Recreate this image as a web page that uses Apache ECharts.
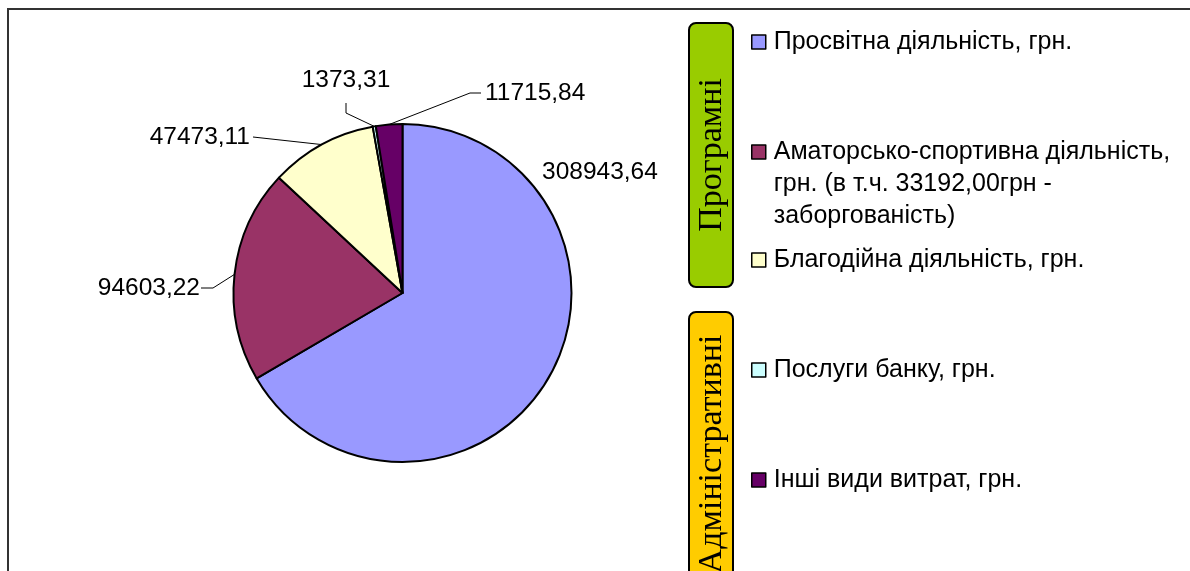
<!DOCTYPE html>
<html>
<head>
<meta charset="utf-8">
<script src="https://cdn.jsdelivr.net/npm/echarts@6/dist/echarts.min.js"></script>
<style>
    html, body { margin: 0; padding: 0; background: #fff; }
    #chart { width: 1190px; height: 571px; }
</style>
</head>
<body>
<div id="chart"></div>
<script>
// дані діаграми
var categories = [
    "Просвітна діяльність, грн.",
    "Аматорсько-спортивна діяльність, грн. (в т.ч. 33192,00грн - заборгованість)",
    "Благодійна діяльність, грн.",
    "Послуги банку, грн.",
    "Інші види витрат, грн."
];
var values = [308943.64, 94603.22, 47473.11, 1373.31, 11715.84];
var legendText = [
    "Просвітна діяльність, грн.",
    "Аматорсько-спортивна діяльність,\nгрн. (в т.ч. 33192,00грн -\nзаборгованість)",
    "Благодійна діяльність, грн.",
    "Послуги банку, грн.",
    "Інші види витрат, грн."
];
var groupNames = ["Програмні", "Адміністративні"];

(function() {
    var myChart = echarts.init(document.getElementById("chart"));

    var colors = ["#9999FF", "#993366", "#FFFFCC", "#CCFFFF", "#660066"];
    var font = "'Liberation Sans', Arial, sans-serif";
    var serif = "'Liberation Serif', 'Times New Roman', serif";

    // де стоять підписи значень: [x, y, align, точка злому, кінець лінії]
    var labelPos = [
        [542, 172, "left", null, null],
        [200, 288, "right", [213, 288], [201, 288]],
        [250, 137, "right", [253, 137], [253, 137]],
        [346, 80, "center", [346, 113], [346, 103]],
        [485, 93, "left", [470, 93], [481, 93]]
    ];
    // центр значка легенди по вертикалі
    var legendY = [42, 152, 260, 370, 480];

    var pieData = categories.map(function(name, i) {
        return {
            name: name,
            value: values[i],
            itemStyle: { color: colors[i] },
            labelLine: { show: i !== 0 }
        };
    });

    var legends = categories.map(function(name, i) {
        var lines = legendText[i].split("\n").length;
        var lh = 32;
        // порожні рядки зверху, щоб значок стояв навпроти першого рядка
        var pad = lines > 1 ? new Array(lines).join("\n") : "";
        var total = lines > 1 ? (2 * lines - 1) : 1;
        return {
            data: [name],
            left: 751,
            top: legendY[i] - total * lh / 2,
            padding: 0,
            orient: "vertical",
            icon: "rect",
            itemWidth: 14,
            itemHeight: 14,
            selectedMode: false,
            itemStyle: { borderColor: "#000", borderWidth: 1.5 },
            textStyle: {
                fontFamily: font,
                fontSize: 25,
                lineHeight: lh,
                color: "#000",
                padding: [0, 0, 0, 3]
            },
            formatter: function() {
                return pad + legendText[i];
            }
        };
    });

    var option = {
        backgroundColor: "#fff",
        animation: false,
        legend: legends,
        graphic: [
            {
                type: "rect",
                shape: { x: 8, y: 9, width: 1200, height: 600 },
                style: { fill: "none", stroke: "#333", lineWidth: 2 }
            },
            {
                type: "rect",
                shape: { x: 689, y: 23, width: 44, height: 264, r: 7 },
                style: { fill: "#99CC00", stroke: "#000", lineWidth: 2 }
            },
            {
                type: "text",
                x: 712,
                y: 155,
                rotation: Math.PI / 2,
                style: {
                    text: groupNames[0],
                    font: "34px " + serif,
                    fill: "#000",
                    align: "center",
                    verticalAlign: "middle"
                }
            },
            {
                type: "rect",
                shape: { x: 689, y: 312, width: 44, height: 300, r: 7 },
                style: { fill: "#FFCC00", stroke: "#000", lineWidth: 2 }
            },
            {
                type: "text",
                x: 712,
                y: 454,
                rotation: Math.PI / 2,
                style: {
                    text: groupNames[1],
                    font: "34px " + serif,
                    fill: "#000",
                    align: "center",
                    verticalAlign: "middle"
                }
            }
        ],
        series: [
            {
                type: "pie",
                center: [402.5, 293],
                radius: 169,
                startAngle: 90,
                clockwise: true,
                avoidLabelOverlap: false,
                data: pieData,
                itemStyle: {
                    borderColor: "#000",
                    borderWidth: 2
                },
                label: {
                    show: true,
                    position: "outside",
                    fontFamily: font,
                    fontSize: 24.5,
                    color: "#000",
                    formatter: function(p) {
                        return p.value.toFixed(2).replace(".", ",");
                    }
                },
                labelLine: {
                    show: true,
                    lineStyle: { color: "#000", width: 1 }
                },
                labelLayout: function(params) {
                    var p = labelPos[params.dataIndex];
                    var res = {
                        x: p[0],
                        y: p[1],
                        align: p[2],
                        verticalAlign: "middle"
                    };
                    if (p[3] && params.labelLinePoints) {
                        res.labelLinePoints = [params.labelLinePoints[0], p[3], p[4]];
                    }
                    return res;
                },
                emphasis: { disabled: true }
            }
        ]
    };

    myChart.setOption(option);
    window.addEventListener("resize", function() {
        myChart.resize();
    });
})();
</script>
</body>
</html>
